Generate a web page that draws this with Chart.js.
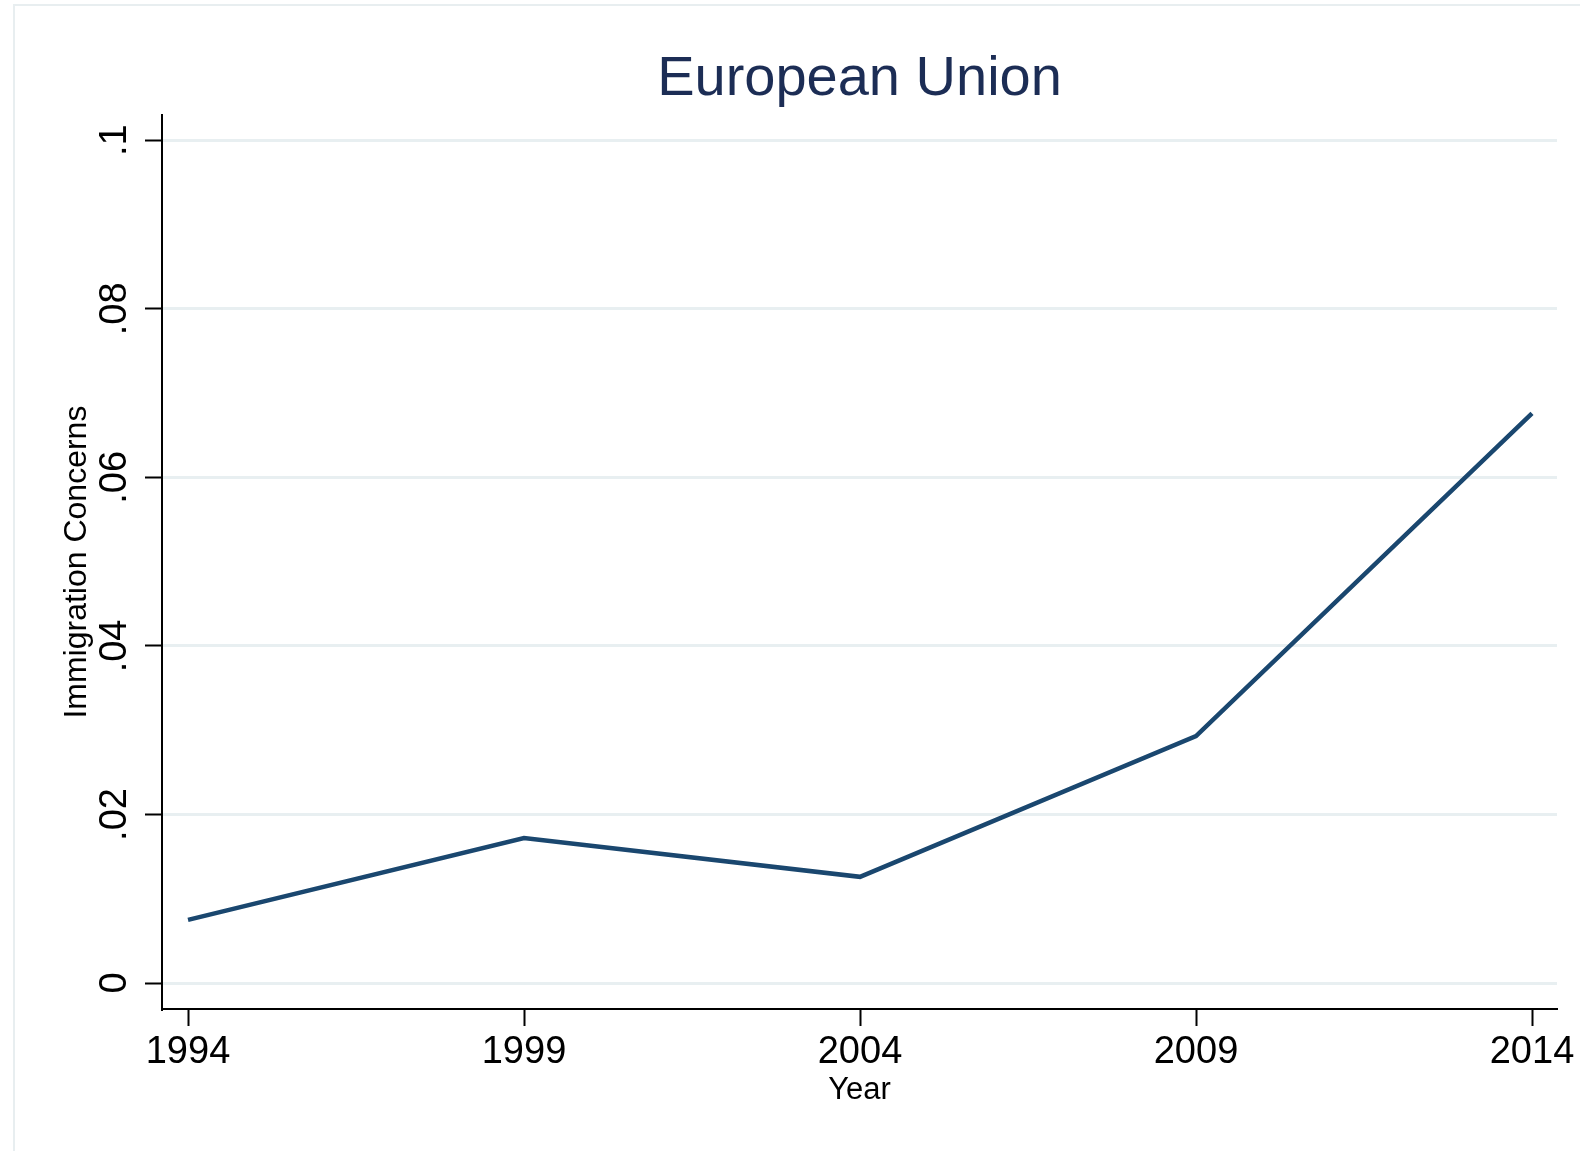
<!DOCTYPE html>
<html>
<head>
<meta charset="utf-8">
<title>European Union</title>
<script src="https://cdn.jsdelivr.net/npm/chart.js@4"></script>
<style>
    html, body { margin: 0; padding: 0; background: #ffffff; }
    #wrap { width: 1580px; height: 1151px; }
</style>
</head>
<body>
<div id="wrap"><canvas id="chart" width="1580" height="1151"></canvas></div>
<script>
// Data
const years = [1994, 1999, 2004, 2009, 2014];
const concerns = [0.0075, 0.0172, 0.0126, 0.0293, 0.0676];
const xTicks = [1994, 1999, 2004, 2009, 2014];
const yTicks = [0, 0.02, 0.04, 0.06, 0.08, 0.1];

const FONT = '"Liberation Sans", Arial, Helvetica, sans-serif';

// faint outer frame like the exported graph region
const framePlugin = {
    id: 'frame',
    beforeDraw(chart) {
        const ctx = chart.ctx;
        ctx.save();
        ctx.strokeStyle = '#e8eef0';
        ctx.lineWidth = 2;
        ctx.beginPath();
        ctx.moveTo(14, 1151);
        ctx.lineTo(14, 5);
        ctx.lineTo(1580, 5);
        ctx.stroke();
        ctx.restore();
    }
};

new Chart(document.getElementById('chart'), {
    type: 'line',
    data: {
        datasets: [{
            data: years.map((y, i) => ({ x: y, y: concerns[i] })),
            borderColor: '#1a476f',
            borderWidth: 4.5,
            pointRadius: 0,
            tension: 0,
            fill: false
        }]
    },
    options: {
        responsive: false,
        animation: false,
        layout: { padding: { left: 0, right: 23, top: 0, bottom: 0 } },
        plugins: {
            legend: { display: false },
            tooltip: { enabled: false },
            title: {
                display: true,
                fullSize: false,
                text: 'European Union',
                color: '#1c2d55',
                font: { family: FONT, size: 56, weight: 'normal' },
                padding: { top: 46, bottom: 2 }
            }
        },
        scales: {
            x: {
                type: 'linear',
                min: 1993.613,
                max: 2014.372,
                afterBuildTicks(scale) {
                    scale.ticks = xTicks.map(v => ({ value: v }));
                },
                afterFit(scale) { scale.height = 142; },
                border: { display: true, color: '#000000', width: 2 },
                grid: {
                    display: true,
                    drawOnChartArea: false,
                    tickLength: 17,
                    tickColor: '#000000',
                    tickWidth: 2
                },
                ticks: {
                    autoSkip: false,
                    maxRotation: 0,
                    color: '#000000',
                    padding: 4,
                    font: { family: FONT, size: 38 },
                    callback: v => String(v)
                },
                title: {
                    display: true,
                    text: 'Year',
                    color: '#000000',
                    font: { family: FONT, size: 31 },
                    padding: { top: 0, bottom: 42 }
                }
            },
            y: {
                min: -0.00308,
                max: 0.10297,
                afterBuildTicks(scale) {
                    scale.ticks = yTicks.map(v => ({ value: v }));
                },
                afterFit(scale) { scale.width = 162; },
                border: { display: true, color: '#000000', width: 2 },
                grid: {
                    color: '#e8eff1',
                    lineWidth: 3,
                    tickLength: 17,
                    tickColor: '#000000',
                    tickWidth: 2
                },
                ticks: {
                    autoSkip: false,
                    minRotation: 90,
                    maxRotation: 90,
                    crossAlign: 'center',
                    color: '#000000',
                    padding: 3,
                    font: { family: FONT, size: 38 },
                    callback: v => v === 0 ? '0' : String(v).replace('0.', '.')
                },
                title: {
                    display: true,
                    text: 'Immigration Concerns',
                    color: '#000000',
                    font: { family: FONT, size: 32 },
                    padding: { top: 58, bottom: 0 }
                }
            }
        }
    },
    plugins: [framePlugin]
});
</script>
</body>
</html>
